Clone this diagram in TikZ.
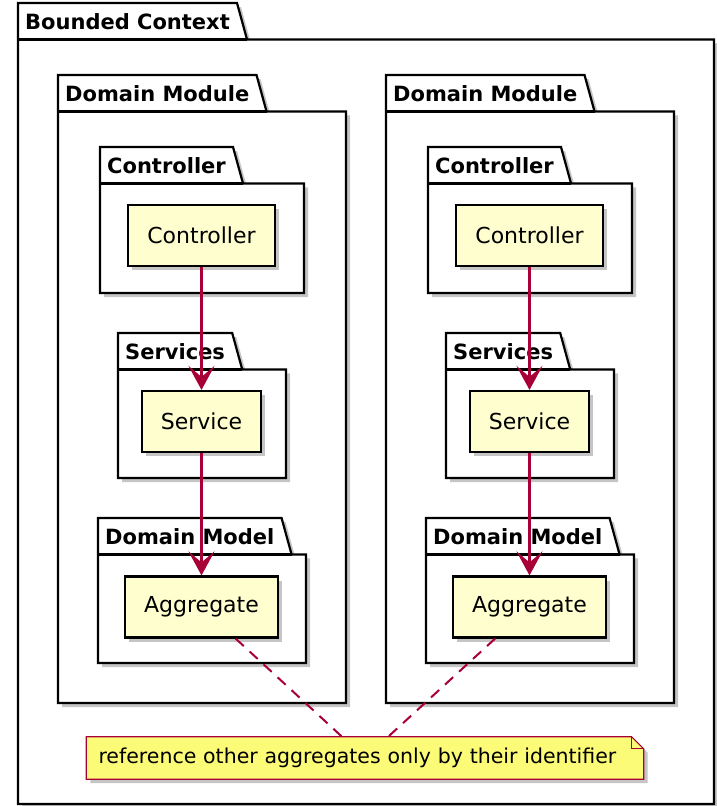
\documentclass[tikz,border=0pt]{standalone}
\usepackage{fontspec}
\setmainfont{DejaVu Sans}
\usepackage{tikz}
\usetikzlibrary{arrows.meta,shadows,backgrounds,calc}
\definecolor{boxfill}{HTML}{FEFECE}
\definecolor{arrowred}{HTML}{A80036}
\definecolor{notefill}{HTML}{FBFB77}
\newcommand{\slant}{10pt}
\newcommand{\fold}{12pt}
\tikzset{
  shade4/.style={drop shadow={shadow xshift=4pt, shadow yshift=-4pt, opacity=0.45}},
  pkglabel/.style={anchor=north west, inner xsep=7pt, inner ysep=0pt, minimum height=36pt, font=\fontsize{21}{25}\selectfont\bfseries},
  pkgline/.style={draw=black, line width=2.2pt, fill=white, line join=miter, shade4},
  classbox/.style={draw=black, line width=2.2pt, fill=boxfill, minimum height=61pt, inner xsep=19pt, font=\fontsize{22}{26}\selectfont, shade4},
  uses/.style={draw=arrowred, line width=3pt, -{Stealth[length=24pt 0 0, width=26pt 0 0, inset=11pt 0 0]}},
  notelink/.style={draw=arrowred, line width=2pt, dash pattern=on 11pt off 8pt}
}
% name, label, left, tab top, right, bottom
\newcommand{\umlpackage}[6]{
\node[pkglabel] (#1) at (#3,#4) {#2};
\coordinate (#1-corner) at (#5,#6);
\begin{scope}[on background layer]
\draw[pkgline] (#3,#4) -- (#1.north east) -- ([xshift=\slant]#1.south east) -- (#1.south east -| #1-corner) -- (#1-corner) -- (#3,#6) -- cycle;
\draw[line width=2.2pt] (#1.south west) -- ([xshift=\slant]#1.south east);
\end{scope}
}

\begin{document}
\begin{tikzpicture}[x=1pt,y=-1pt]
\useasboundingbox (0,0) rectangle (717,806);
\umlpackage{bc}{Bounded Context}{18}{3}{714}{804}
%left column
\umlpackage{dmL}{Domain Module}{58}{75}{346}{703}
\umlpackage{ctrlL}{Controller}{100}{147}{304}{293}
\umlpackage{svcL}{Services}{118}{333}{286}{478}
\umlpackage{modelL}{Domain Model}{98}{518}{306}{663}
\node[classbox] (controllerL) at (201.5,235.5) {Controller};
\node[classbox] (serviceL) at (201.5,421.5) {Service};
\node[classbox] (aggregateL) at (201.5,607) {Aggregate};
%right column
\umlpackage{dmR}{Domain Module}{386}{75}{674}{703}
\umlpackage{ctrlR}{Controller}{428}{147}{632}{293}
\umlpackage{svcR}{Services}{446}{333}{614}{478}
\umlpackage{modelR}{Domain Model}{426}{518}{634}{663}
\node[classbox] (controllerR) at (529.5,235.5) {Controller};
\node[classbox] (serviceR) at (529.5,421.5) {Service};
\node[classbox] (aggregateR) at (529.5,607) {Aggregate};
%note
\node[text width=533pt, align=left, minimum height=42pt, inner xsep=12pt, inner ysep=0pt, font=\fontsize{20.5}{24}\selectfont] (note) at (365,758) {reference other aggregates only by their identifier};
\begin{scope}[on background layer]
\draw[draw=arrowred, line width=1.2pt, fill=notefill, shade4] (note.north west) -- ([xshift=-\fold]note.north east) -- ([yshift=-\fold]note.north east) -- (note.south east) -- (note.south west) -- cycle;
\draw[draw=arrowred, line width=1.2pt] ([xshift=-\fold]note.north east) -- ([xshift=-\fold,yshift=-\fold]note.north east) -- ([yshift=-\fold]note.north east);
\end{scope}
\draw[uses] (controllerL) -- (serviceL);
\draw[uses] (serviceL) -- (aggregateL);
\draw[uses] (controllerR) -- (serviceR);
\draw[uses] (serviceR) -- (aggregateR);
\draw[notelink] (aggregateL) -- (note);
\draw[notelink] (aggregateR) -- (note);
\end{tikzpicture}
\end{document}
